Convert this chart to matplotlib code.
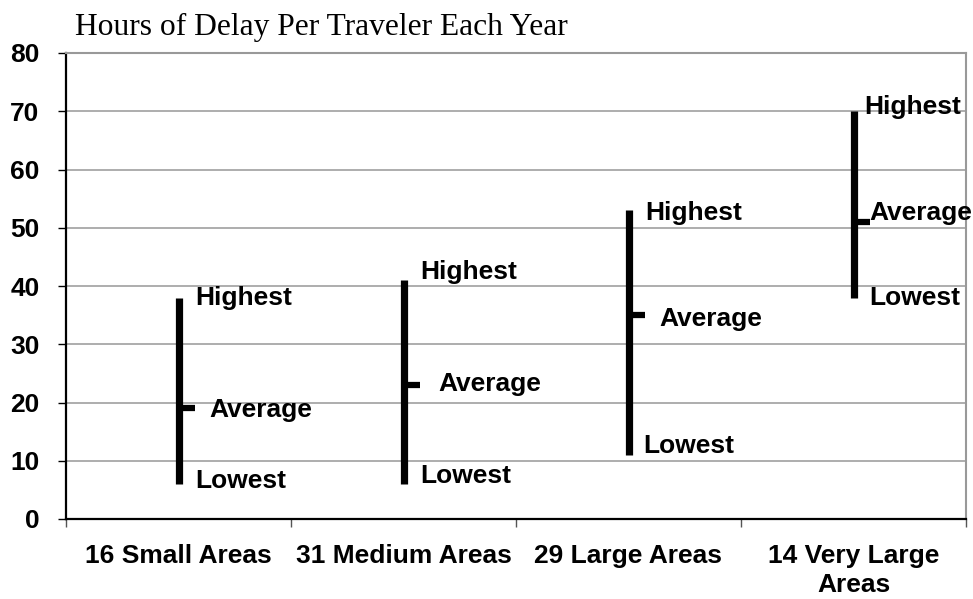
import matplotlib
matplotlib.use("Agg")
import matplotlib.pyplot as plt
import numpy as np

# ---- data ----
categories = ["16 Small Areas", "31 Medium Areas", "29 Large Areas", "14 Very Large\nAreas"]
highest = [38, 41, 53, 70]
average = [19, 23, 35, 51]
lowest = [6, 6, 11, 38]
y_ticks = [0, 10, 20, 30, 40, 50, 60, 70, 80]
title = "Hours of Delay Per Traveler Each Year"

# ---- layout (pixel offsets of the value labels; x right, y down) ----
hi_off = [(17, 0), (17, -8), (17, 3), (11, -4)]
av_off = [(31, 2), (35, -1), (31, 4), (16, -9)]
lo_off = [(17, -3), (17, -8), (15, -9), (16, 0)]

DPI = 100
fig = plt.figure(figsize=(9.73, 5.99), dpi=DPI)
ax = fig.add_axes([66 / 973, 1 - 519 / 599, 900 / 973, 466 / 599])

x = np.arange(len(categories))
ax.set_xlim(-0.5, len(categories) - 0.5)
ax.set_ylim(0, 80)

# gridlines
for t in y_ticks[1:]:
    ax.axhline(t, color="#a0a0a0", lw=1.2, zorder=1)

# bars
ax.vlines(x, lowest, highest, color="black", lw=5.2, zorder=3, capstyle="butt")
ax.hlines(average, x, x + 0.075, color="black", lw=4.5, zorder=3)

px2pt = 72 / DPI
lab_font = dict(fontfamily="Liberation Sans", fontweight="bold", fontsize=19)
for i in range(len(categories)):
    for val, name, off in ((highest[i], "Highest", hi_off[i]),
                           (average[i], "Average", av_off[i]),
                           (lowest[i], "Lowest", lo_off[i])):
        ax.annotate(name, (x[i], val), xytext=(off[0] * px2pt, -off[1] * px2pt),
                    textcoords="offset points", ha="left", va="center",
                    zorder=4, annotation_clip=False, **lab_font)

# spines
ax.spines["left"].set_color("black")
ax.spines["left"].set_linewidth(1.6)
ax.spines["bottom"].set_color("black")
ax.spines["bottom"].set_linewidth(1.6)
ax.spines["right"].set_color("#999999")
ax.spines["right"].set_linewidth(1.5)
ax.spines["top"].set_color("#999999")
ax.spines["top"].set_linewidth(1.5)

# y ticks
ax.set_yticks(y_ticks)
ax.set_yticklabels([str(t) for t in y_ticks], **lab_font)
ax.tick_params(axis="y", direction="out", length=6, width=1, color="black", pad=13)

# x ticks: marks at category boundaries, labels at centers
ax.set_xticks(np.arange(-0.5, len(categories)), minor=True)
ax.set_xticks(x)
ax.set_xticklabels(categories, linespacing=1.28, **lab_font)
ax.tick_params(axis="x", which="major", length=0, pad=18)
ax.tick_params(axis="x", which="minor", direction="out", length=6, width=1, color="#555555")

fig.text(75 / 973, 1 - 27 / 599, title, fontfamily="Liberation Serif",
         fontsize=22.7, ha="left", va="center")

fig.savefig("out.png", dpi=DPI, facecolor="white")
